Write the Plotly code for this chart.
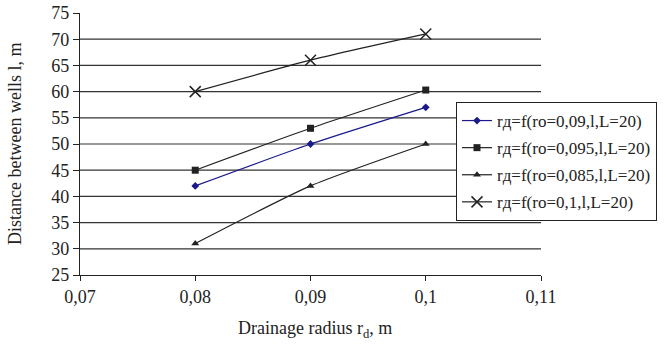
import plotly.graph_objects as go

x_vals = [0.08, 0.09, 0.1]
s_09 = [42, 50, 57]
s_095 = [45, 53, 60.3]
s_085 = [31, 42, 50]
s_1 = [60, 66, 71]

names = ["rд=f(ro=0,09,l,L=20)", "rд=f(ro=0,095,l,L=20)",
         "rд=f(ro=0,085,l,L=20)", "rд=f(ro=0,1,l,L=20)"]
x_ticks = [0.07, 0.08, 0.09, 0.1, 0.11]
x_ticktext = ["0,07", "0,08", "0,09", "0,1", "0,11"]
y_ticks = [25, 30, 35, 40, 45, 50, 55, 60, 65, 70, 75]

FONT = "Liberation Serif"
INK = "#222222"

fig = go.Figure()
styles = [
    (s_09, "#1a1a8c", dict(symbol="diamond", size=6)),
    (s_095, INK, dict(symbol="square", size=7)),
    (s_085, INK, dict(symbol="triangle-up", size=7)),
    (s_1, INK, dict(symbol="x-thin", size=11, line=dict(width=1.5, color=INK))),
]
for i, ((vals, col, mk), nm) in enumerate(zip(styles, names)):
    fig.add_trace(go.Scatter(
        x=x_vals, y=vals, name=nm, mode="lines+markers", legendgroup=f"g{i}",
        line=dict(color=col, width=1.2, shape="spline", smoothing=0.6),
        marker=dict(color=col, **mk),
    ))

# gridlines 30..70 (no gridline at 75)
for yv in y_ticks[1:-1]:
    fig.add_shape(type="line", xref="x", yref="y", x0=0.07, x1=0.11, y0=yv, y1=yv,
                  line=dict(color="#333333", width=1.2), layer="below")

fig.update_layout(
    width=671, height=345,
    margin=dict(l=80, r=130, t=13, b=70, autoexpand=False),
    paper_bgcolor="white", plot_bgcolor="white",
    font=dict(family=FONT, size=18, color=INK),
    showlegend=True,
    legend=dict(x=(456 - 80) / 461, y=(275 - 102) / 262, xanchor="left", yanchor="top",
                bgcolor="white", bordercolor=INK, borderwidth=1,
                font=dict(size=17, family=FONT),
                traceorder="grouped", tracegroupgap=2, itemwidth=30),
    annotations=[
        dict(text="Drainage radius r<sub>d</sub>, m", xref="paper", yref="paper",
             x=0.51, y=-54 / 262, xanchor="center", yanchor="middle",
             showarrow=False, font=dict(size=18, family=FONT, color=INK)),
        dict(text="Distance between wells l, m", xref="paper", yref="paper",
             x=-65 / 461, y=0.5, xanchor="center", yanchor="middle", textangle=-90,
             showarrow=False, font=dict(size=18, family=FONT, color=INK)),
    ],
)
fig.update_xaxes(range=[0.07, 0.11], tickvals=x_ticks, ticktext=x_ticktext, automargin=False,
                 showgrid=False, zeroline=False, showline=True, linecolor=INK,
                 linewidth=1.2, ticks="outside", ticklen=5, tickcolor=INK)
fig.update_yaxes(range=[25, 75], tickvals=y_ticks, showgrid=False, zeroline=False, automargin=False,
                 showline=True, linecolor=INK, linewidth=1.2,
                 ticks="outside", ticklen=6, tickcolor=INK)

fig.write_html("out.html", config={"displayModeBar": False},
               post_script="document.body.style.margin='0';document.body.style.overflow='hidden';")
